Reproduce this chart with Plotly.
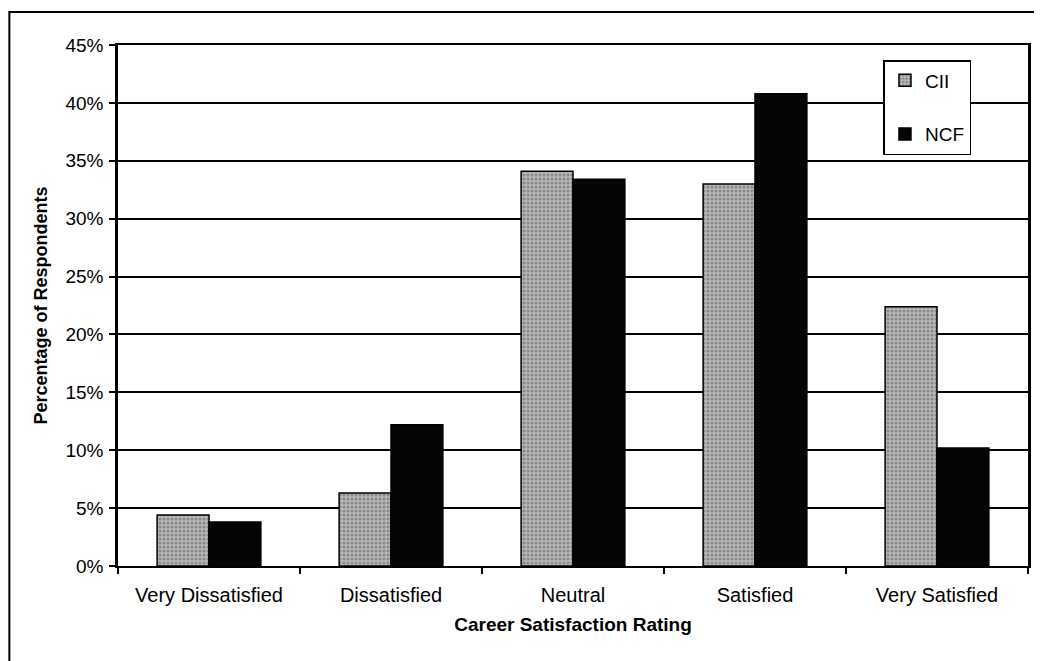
import plotly.graph_objects as go

categories = ["Very Dissatisfied", "Dissatisfied", "Neutral", "Satisfied", "Very Satisfied"]
cii = [4.4, 6.3, 34.1, 33.0, 22.4]
ncf = [3.8, 12.2, 33.4, 40.8, 10.2]
yticks = [0, 5, 10, 15, 20, 25, 30, 35, 40, 45]
ytick_labels = [f"{v}%" for v in yticks]

# page body has an 8px margin, so the figure is sized to fit the window
OFF = 8
W, H = 1042 - OFF, 661 - OFF
L, R, T = 118 - OFF, 1042 - 1031, 45 - OFF
B = H - (566 - OFF)
pw, ph = W - L - R, H - T - B

FONT = "Liberation Sans, Arial, sans-serif"

fig = go.Figure()
fig.add_trace(go.Bar(
    name="CII", x=categories, y=cii, legendgroup="a",
    marker=dict(color="#a8a8a8", line=dict(color="black", width=1.5),
                pattern=dict(shape=".", fgcolor="#5a5a5a", bgcolor="#b8b8b8", size=4, solidity=0.45)),
))
fig.add_trace(go.Bar(
    name="NCF", x=categories, y=ncf, legendgroup="b",
    marker=dict(color="#050505", line=dict(color="black", width=1.5)),
))

fig.update_layout(
    width=W, height=H,
    margin=dict(l=L, r=R, t=T, b=B),
    paper_bgcolor="white", plot_bgcolor="white",
    barmode="group", bargap=0.43, bargroupgap=0,
    font=dict(family=FONT, size=19, color="black"),
    legend=dict(
        x=(886 - 118) / pw, y=(566 - 60) / ph, xanchor="left", yanchor="top",
        bordercolor="black", borderwidth=1.5, bgcolor="white",
        font=dict(size=19, family=FONT), traceorder="grouped", tracegroupgap=26,
        itemwidth=30, entrywidth=76,
    ),
    xaxis=dict(
        showline=True, linecolor="black", linewidth=2, mirror=True,
        ticks="outside", ticklen=6, tickcolor="black", tickwidth=1.5, tickson="boundaries",
        tickfont=dict(size=20), showgrid=False, ticklabelstandoff=10,
        title=dict(text="<b>Career Satisfaction Rating</b>", font=dict(size=19), standoff=13),
    ),
    yaxis=dict(
        range=[0, 45], tickvals=yticks, ticktext=ytick_labels,
        showline=True, linecolor="black", linewidth=2.5, mirror=True,
        ticks="outside", ticklen=6, tickcolor="black", tickwidth=1.5,
        showgrid=True, gridcolor="black", gridwidth=1.5,
        tickfont=dict(size=19), ticklabelstandoff=2,
        title=dict(text="<b>Percentage of Respondents</b>", font=dict(size=18), standoff=14),
    ),
    shapes=[dict(
        type="rect", xref="paper", yref="paper",
        x0=(9 - 118) / pw, x1=(1042 + 20 - 118) / pw,
        y0=(566 - (661 + 20)) / ph, y1=(566 - 12) / ph,
        line=dict(color="black", width=2), fillcolor="rgba(0,0,0,0)", layer="below",
    )],
)

fig.write_html("out.html")
